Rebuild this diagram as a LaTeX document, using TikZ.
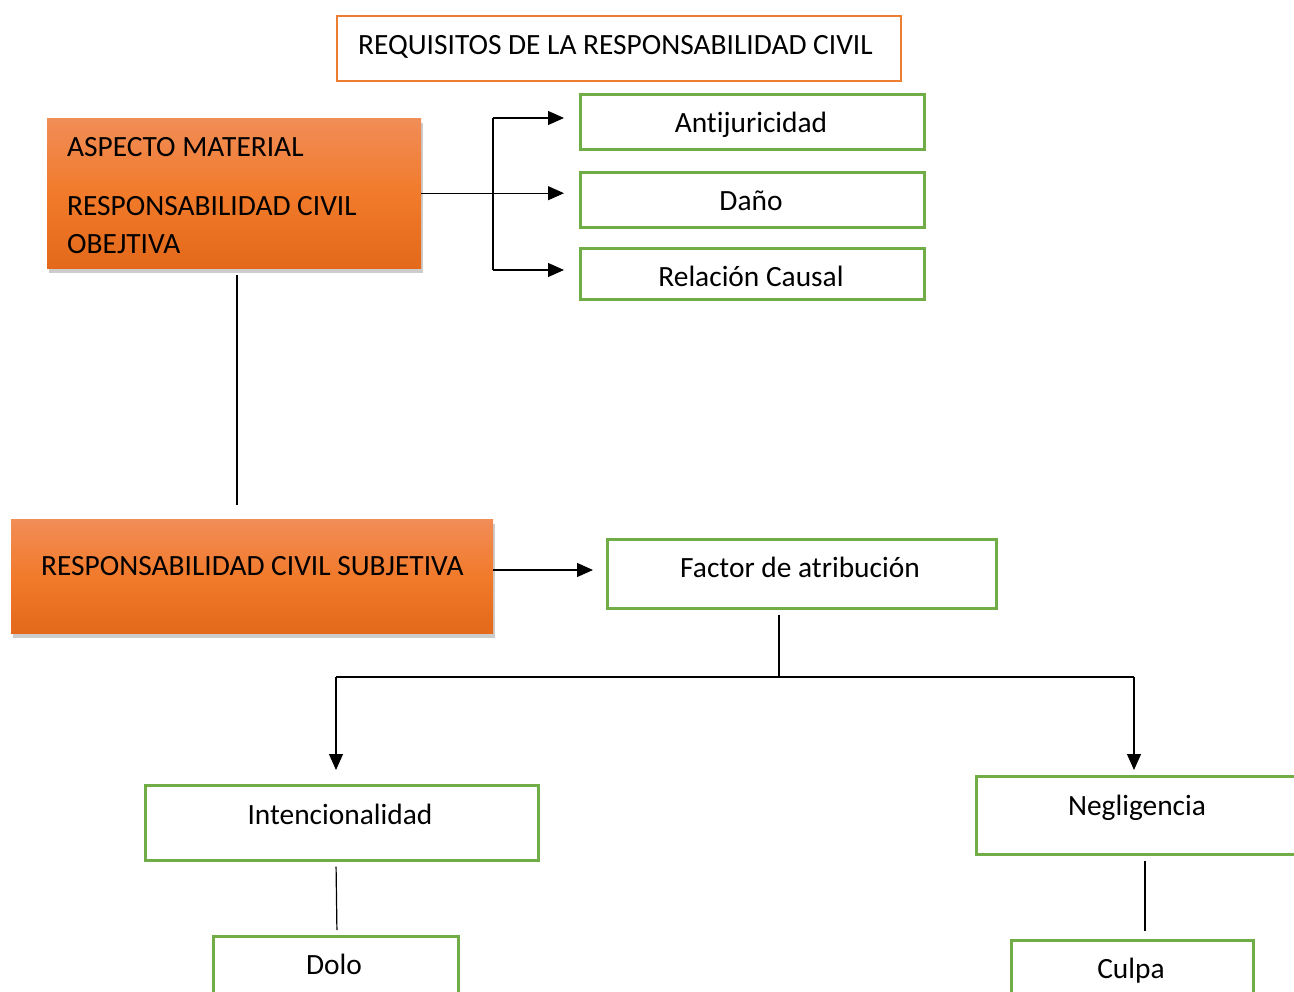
\documentclass[tikz,border=0pt]{standalone}
\usepackage{fontspec}
\setmainfont{Carlito}[Ligatures={NoCommon}]
\usetikzlibrary{arrows.meta,shadows}
\definecolor{grn}{HTML}{70AD47}
\definecolor{org}{HTML}{ED7D31}
\definecolor{orTop}{HTML}{F18D57}
\definecolor{orMid}{HTML}{F17A2B}
\definecolor{orBot}{HTML}{E4691A}
\begin{document}
\begin{tikzpicture}[x=1pt,y=-1pt,
  gbox/.style={draw=grn, line width=2.6pt, rectangle, inner sep=0pt, anchor=north west},
  tbox/.style={draw=org, line width=2pt, rectangle, inner sep=0pt, anchor=north west},
  obox/.style={rectangle, inner sep=0pt, anchor=north west, top color=orTop, bottom color=orBot, middle color=orMid,
    drop shadow={opacity=0.4, shadow xshift=1.5pt, shadow yshift=-5pt}},
  lbl/.style={font=\fontsize{29.4}{35}\selectfont, anchor=base, inner sep=0pt},
  lblw/.style={lbl, anchor=base west},
  conn/.style={line width=1.2pt, draw=black},
  arr/.style={conn, -{Triangle[length=16pt,width=14pt]}}]
\useasboundingbox (0,0) rectangle (1294,992);
\fill[white] (0,0) rectangle (1294,992);
\clip (0,0) rectangle (1294,992);

% title
\node[tbox, minimum width=564pt, minimum height=65pt] (title) at (336,15) {};
\node[lblw] (ttitle) at (358,55) {REQUISITOS DE LA RESPONSABILIDAD CIVIL};

% orange boxes
\node[obox, minimum width=374pt, minimum height=150pt] (obj) at (47,118) {};
\node[lblw] (tobj1) at (67,157) {ASPECTO MATERIAL};
\node[lblw] (tobj2) at (67,216) {RESPONSABILIDAD CIVIL};
\node[lblw] (tobj3) at (67,254) {OBEJTIVA};

\node[obox, minimum width=482pt, minimum height=114pt] (subj) at (11,519) {};
\node[lblw] (tsubj) at (41,575) {RESPONSABILIDAD CIVIL SUBJETIVA};

% green boxes
\node[gbox, minimum width=344pt, minimum height=55pt] (anti) at (579,93) {};
\node[lbl] (tanti) at (751,133) {Antijuricidad};
\node[gbox, minimum width=344pt, minimum height=55pt] (dano) at (579,171) {};
\node[lbl] (tdano) at (751,211) {Daño};
\node[gbox, minimum width=344pt, minimum height=51pt] (rel) at (579,247) {};
\node[lbl] (trel) at (751,287) {Relación Causal};

\node[gbox, minimum width=389pt, minimum height=69pt] (fac) at (606,538) {};
\node[lbl] (tfac) at (800,577) {Factor de atribución};

\node[gbox, minimum width=393pt, minimum height=75pt] (int) at (144,784) {};
\node[lbl] (tint) at (340,824) {Intencionalidad};
\node[gbox, minimum width=325pt, minimum height=78pt] (neg) at (975,775) {};
\node[lbl] (tneg) at (1137,815) {Negligencia};

\node[gbox, minimum width=245pt, minimum height=80pt] (dolo) at (212,935) {};
\node[lbl] (tdolo) at (334,974) {Dolo};
\node[gbox, minimum width=242pt, minimum height=80pt] (culpa) at (1010,939) {};
\node[lbl] (tculpa) at (1131,978) {Culpa};

% connectors top
\coordinate (bt) at (493,118);
\coordinate (bb) at (493,270);
\draw[conn] (bt) -- (bb);
\draw[arr, shorten >=15pt] (obj.east) -- (obj.east -| dano.west);
\draw[arr, shorten >=15pt] (bt) -- (bt -| anti.west);
\draw[arr, shorten >=15pt] (bb) -- (bb -| rel.west);

% obj to subj
\coordinate (vl) at (237,0);
\draw[conn, shorten <=7pt, shorten >=14pt] (obj.south -| vl) -- (subj.north -| vl);

% subj to factor
\draw[arr, shorten >=13pt] (subj.east |- 0,570) -- (fac.west |- 0,570);

% factor branches
\coordinate (fj) at (779,677);
\coordinate (hl) at (336,677);
\coordinate (hr) at (1134,677);
\draw[conn, shorten <=5pt] (fac.south -| fj) -- (fj);
\draw[conn] (hl) -- (hr);
\draw[arr, shorten >=14pt] (hl) -- (hl |- int.north);
\draw[arr, shorten >=5pt] (hr) -- (hr |- neg.north);

% leaves
\draw[conn, shorten <=5pt, shorten >=5pt] (int.south -| 336,0) -- (dolo.north -| 337,0);
\draw[conn, shorten <=5pt, shorten >=8pt] (neg.south -| 1145,0) -- (culpa.north -| 1145,0);
\end{tikzpicture}
\end{document}
